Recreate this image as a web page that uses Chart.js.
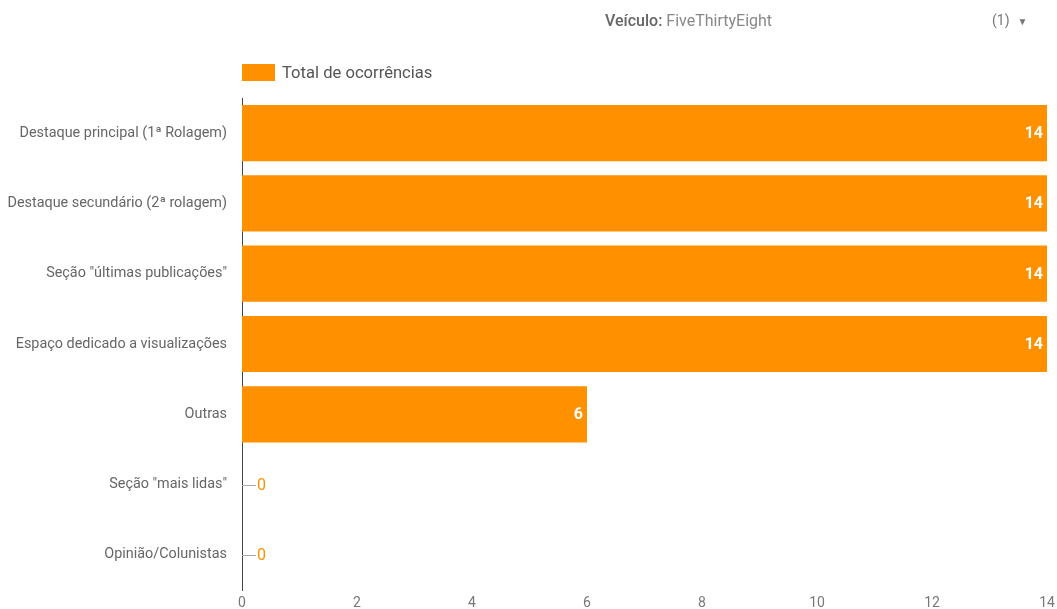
<!DOCTYPE html>
<html>
<head>
<meta charset="utf-8">
<script src="https://cdn.jsdelivr.net/npm/chart.js@4"></script>
<style>
  body { margin: 0; background: #fff; font-family: Roboto, "Noto Sans", sans-serif; }
  #wrap { position: relative; width: 1057px; height: 609px; }
  #filter { position: absolute; left: 605px; top: 11px; font-size: 16px; color: #888; }
  #filter b { font-weight: 500; color: #666; }
  #count { position: absolute; left: 992px; top: 12px; font-size: 14px; color: #777; }
  #count small { font-size: 10px; margin-left: 8px; }
  #legend { position: absolute; left: 242px; top: 63px; font-size: 16.6px; color: #555; display: flex; align-items: center; }
  #legend span.box { width: 33px; height: 17px; background: #ff9100; margin-right: 7px; }
</style>
</head>
<body>
<div id="wrap">
  <div id="filter"><b>Veículo:</b> FiveThirtyEight</div>
  <div id="count">(1)<small>▼</small></div>
  <div id="legend"><span class="box"></span>Total de ocorrências</div>
  <canvas id="chart" width="1057" height="609"></canvas>
</div>
<script>
const categories = [
  'Destaque principal (1ª Rolagem)',
  'Destaque secundário (2ª rolagem)',
  'Seção "últimas publicações"',
  'Espaço dedicado a visualizações',
  'Outras',
  'Seção "mais lidas"',
  'Opinião/Colunistas'
];
const ocorrencias = [14, 14, 14, 14, 6, 0, 0];
const xTicks = [0, 2, 4, 6, 8, 10, 12, 14];
const barColor = '#ff9100';

// value labels: inside the bar end, or beside the axis with a short leader for zeros
const valueLabels = {
  id: 'valueLabels',
  afterDatasetsDraw(chart) {
    const ctx = chart.ctx;
    const meta = chart.getDatasetMeta(0);
    ctx.save();
    ctx.textBaseline = 'middle';
    meta.data.forEach((bar, i) => {
      const v = ocorrencias[i];
      if (v > 0) {
        ctx.font = 'bold 16px Roboto';
        ctx.fillStyle = '#fff';
        ctx.textAlign = 'right';
        ctx.fillText(String(v), bar.x - 4, bar.y + 1);
      } else {
        ctx.strokeStyle = '#aaa';
        ctx.lineWidth = 1;
        ctx.beginPath();
        ctx.moveTo(bar.base, Math.round(bar.y) + 0.5);
        ctx.lineTo(bar.base + 14, Math.round(bar.y) + 0.5);
        ctx.stroke();
        ctx.font = '16px Roboto';
        ctx.fillStyle = barColor;
        ctx.textAlign = 'left';
        ctx.fillText(String(v), bar.base + 15, bar.y + 1);
      }
    });
    ctx.restore();
  }
};

new Chart(document.getElementById('chart'), {
  type: 'bar',
  data: {
    labels: categories,
    datasets: [{
      label: 'Total de ocorrências',
      data: ocorrencias,
      backgroundColor: barColor,
      barPercentage: 0.8,
      categoryPercentage: 1
    }]
  },
  options: {
    indexAxis: 'y',
    responsive: false,
    animation: false,
    layout: { padding: { top: 98, right: 10, bottom: -7, left: 0 } },
    plugins: {
      legend: { display: false },
      tooltip: { enabled: false }
    },
    scales: {
      x: {
        min: 0,
        max: 14,
        afterBuildTicks(axis) { axis.ticks = xTicks.map(v => ({ value: v })); },
        afterFit(axis) { axis.paddingLeft = 0; axis.paddingRight = 0; },
        grid: { display: false, drawTicks: false },
        border: { display: false },
        ticks: { color: '#777', font: { family: 'Roboto', size: 14, lineHeight: 1 }, padding: 6 }
      },
      y: {
        afterFit(axis) { axis.width = 242; axis.paddingTop = 0; axis.paddingBottom = 0; },
        grid: { display: false, drawTicks: false },
        border: { display: true, color: '#444', width: 1 },
        ticks: { color: '#666', font: { family: 'Roboto', size: 14.4 }, padding: 15 }
      }
    }
  },
  plugins: [valueLabels]
});
</script>
</body>
</html>
